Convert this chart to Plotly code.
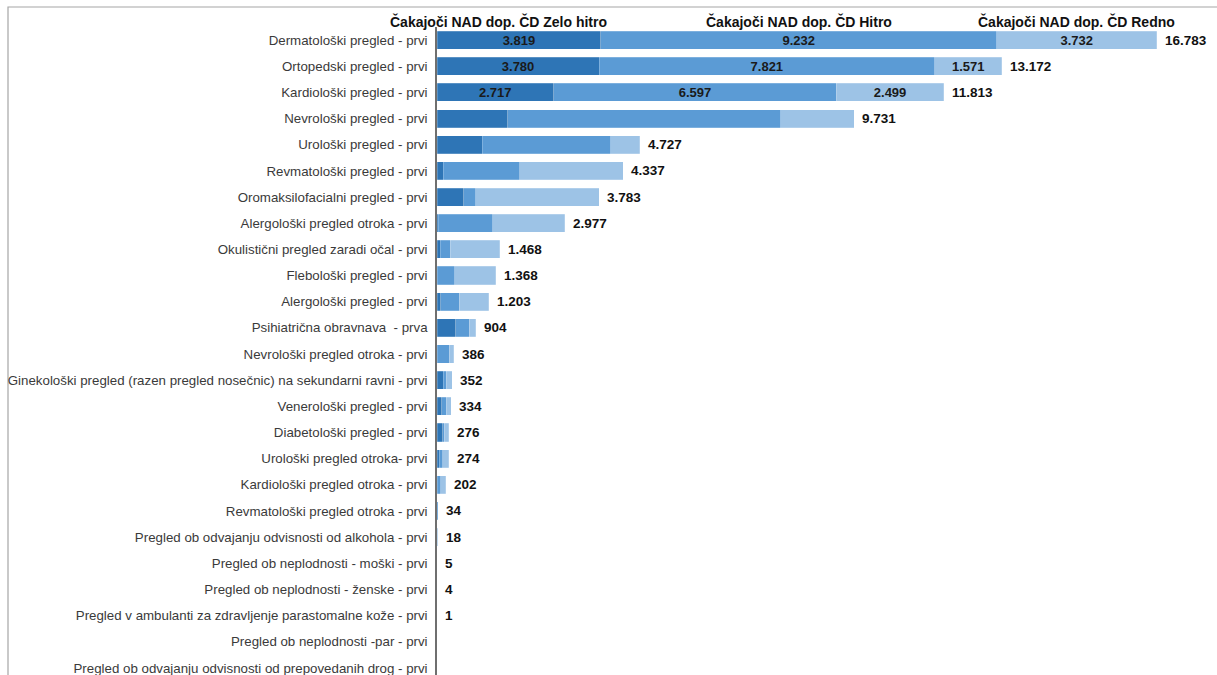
import plotly.graph_objects as go

categories = [
    "Dermatološki pregled - prvi",
    "Ortopedski pregled - prvi",
    "Kardiološki pregled - prvi",
    "Nevrološki pregled - prvi",
    "Urološki pregled - prvi",
    "Revmatološki pregled - prvi",
    "Oromaksilofacialni pregled - prvi",
    "Alergološki pregled otroka - prvi",
    "Okulistični pregled zaradi očal - prvi",
    "Flebološki pregled - prvi",
    "Alergološki pregled - prvi",
    "Psihiatrična obravnava  - prva",
    "Nevrološki pregled otroka - prvi",
    "Ginekološki pregled (razen pregled nosečnic) na sekundarni ravni - prvi",
    "Venerološki pregled - prvi",
    "Diabetološki pregled - prvi",
    "Urološki pregled otroka- prvi",
    "Kardiološki pregled otroka - prvi",
    "Revmatološki pregled otroka - prvi",
    "Pregled ob odvajanju odvisnosti od alkohola - prvi",
    "Pregled ob neplodnosti - moški - prvi",
    "Pregled ob neplodnosti - ženske - prvi",
    "Pregled v ambulanti za zdravljenje parastomalne kože - prvi",
    "Pregled ob neplodnosti -par - prvi",
    "Pregled ob odvajanju odvisnosti od prepovedanih drog - prvi",
]

zelo_hitro = [3819, 3780, 2717, 1654, 1056, 147, 629, 30, 70, 8, 93, 435, 5, 150, 109, 130, 50, 5, 10, 0, 0, 0, 0, 0, 0]
hitro      = [9232, 7821, 6597, 6361, 2991, 1787, 280, 1267, 233, 411, 420, 318, 282, 60, 101, 40, 85, 80, 14, 10, 0, 0, 0, 0, 0]
redno      = [3732, 1571, 2499, 1716, 680, 2403, 2874, 1680, 1165, 949, 690, 151, 99, 142, 124, 106, 139, 117, 10, 8, 5, 4, 1, 0, 0]
totals     = [16783, 13172, 11813, 9731, 4727, 4337, 3783, 2977, 1468, 1368, 1203, 904, 386, 352, 334, 276, 274, 202, 34, 18, 5, 4, 1, 0, 0]
labelled_rows = 3

series_names = ["Čakajoči NAD dop. ČD Zelo hitro", "Čakajoči NAD dop. ČD Hitro", "Čakajoči NAD dop. ČD Redno"]
colors = ["#2E75B6", "#5B9BD5", "#9DC3E6"]

NARROW = "Liberation Sans Narrow, Arial Narrow, Liberation Sans, Arial"


def fmt(v):
    return f"{v:,}".replace(",", ".")


ypos = list(range(len(categories)))
fig = go.Figure()
for name, vals, col in zip(series_names, [zelo_hitro, hitro, redno], colors):
    txt = [f"<b>{fmt(v)}</b>" if i < labelled_rows else "" for i, v in enumerate(vals)]
    fig.add_trace(go.Bar(
        y=ypos, x=vals, orientation="h", name=name,
        marker=dict(color=col, line=dict(color="rgba(255,255,255,0.35)", width=0.6)),
        text=txt, textposition="inside", insidetextanchor="middle",
        constraintext="none",
        textfont=dict(family=NARROW, size=13, color="#1a1a1a"),
        textangle=0, cliponaxis=False, hoverinfo="skip",
    ))

annotations = []
for i, t in enumerate(totals):
    if t > 0:
        annotations.append(dict(
            x=t, y=i, xref="x", yref="y", text=f"<b>{fmt(t)}</b>", showarrow=False,
            xanchor="left", yanchor="middle", xshift=6,
            font=dict(family="Liberation Sans, Arial", size=13.5, color="#111111"),
        ))

# series name labels centered above segments of the first bar
starts = [0, zelo_hitro[0], zelo_hitro[0] + hitro[0]]
widths = [zelo_hitro[0], hitro[0], redno[0]]
shifts = [-20, 0, 0]
for name, s, w, sh in zip(series_names, starts, widths, shifts):
    annotations.append(dict(
        x=s + w / 2, y=0, xref="x", yref="y", text=f"<b>{name}</b>", showarrow=False,
        xanchor="center", yanchor="bottom", yshift=8, xshift=sh,
        font=dict(family=NARROW, size=14, color="#111111"),
    ))

fig.update_layout(
    width=1217, height=700,
    barmode="stack", bargap=0.31,
    showlegend=False,
    plot_bgcolor="white", paper_bgcolor="white",
    margin=dict(l=437, r=8, t=27, b=19, autoexpand=False),
    annotations=annotations,
    shapes=[dict(type="rect", xref="paper", yref="paper",
                 x0=-0.5557, x1=1.2, y0=-0.2, y1=1.0306,
                 line=dict(color="#A6A6A6", width=1.2), fillcolor="rgba(0,0,0,0)", layer="below")],
)
fig.update_xaxes(range=[0, 18000], visible=False, showgrid=False, automargin=False)
fig.update_yaxes(
    tickmode="array", tickvals=ypos, ticktext=categories,
    range=[24.5, -0.5], showgrid=False, zeroline=False, automargin=False,
    showline=True, linecolor="#6F6F6F", linewidth=1.5,
    ticks="", ticklabelstandoff=5,
    tickfont=dict(family="Liberation Sans, Arial", size=13.3, color="#3a3a3a"),
)

fig.write_html("out.html", config={"displayModeBar": False},
               post_script="document.body.style.margin='0';document.body.style.overflow='hidden';")
